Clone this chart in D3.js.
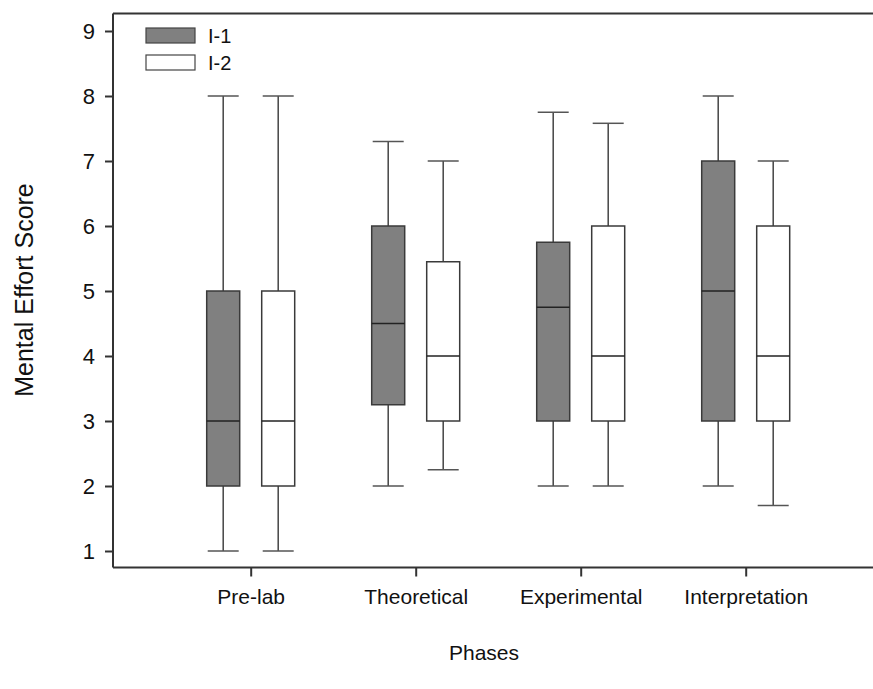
<!DOCTYPE html>
<html>
<head>
<meta charset="utf-8">
<script src="https://cdn.jsdelivr.net/npm/d3@7"></script>
<style>
  body { margin: 0; background: #fff; }
  text { font-family: "Liberation Sans", Arial, sans-serif; fill: #111; }
</style>
</head>
<body>
<div id="graphic"></div>
<script>
var width = 873, height = 689;

// data
var phases = ["Pre-lab", "Theoretical", "Experimental", "Interpretation"];
var groups = ["I-1", "I-2"];
var mins    = { "I-1": [1, 2, 2, 2],        "I-2": [1, 2.25, 2, 1.7] };
var q1s     = { "I-1": [2, 3.25, 3, 3],     "I-2": [2, 3, 3, 3] };
var medians = { "I-1": [3, 4.5, 4.75, 5],   "I-2": [3, 4, 4, 4] };
var q3s     = { "I-1": [5, 6, 5.75, 7],     "I-2": [5, 5.45, 6, 6] };
var maxs    = { "I-1": [8, 7.3, 7.75, 8],   "I-2": [8, 7, 7.58, 7] };
var yTicks = [1, 2, 3, 4, 5, 6, 7, 8, 9];
var fills = { "I-1": "#808080", "I-2": "#ffffff" };

var boxes = [];
phases.forEach(function(p, i){
  groups.forEach(function(g){
    boxes.push({phase: p, group: g, min: mins[g][i], q1: q1s[g][i],
      median: medians[g][i], q3: q3s[g][i], max: maxs[g][i]});
  });
});

// plot frame (don't use "top": it's window.top)
var plotLeft = 113, plotTop = 13.5, plotBottom = 567.5, plotRight = 873;

var svg = d3.select('#graphic')
  .append('svg')
  .attr("width", width)
  .attr("height", height);

var y = d3.scaleLinear().domain([1, 9]).range([551, 31]);
var x = d3.scalePoint().domain(phases).range([250.7, 745.7]);
var off = d3.scalePoint().domain(groups).range([-27.5, 27.5]);
var boxW = 33, capW = 31;

// top line
svg.append("line").attr("x1", plotLeft).attr("x2", plotRight).attr("y1", plotTop).attr("y2", plotTop)
  .attr("stroke", "#333").attr("stroke-width", 2);

// y axis
var yAxis = svg.append("g")
  .attr("transform", "translate(" + plotLeft + ",0)")
  .call(d3.axisLeft(y).tickValues(yTicks).tickSize(8).tickPadding(10).tickSizeOuter(0));
yAxis.select(".domain").attr("d", "M0," + plotTop + "V" + plotBottom).attr("stroke", "#333").attr("stroke-width", 2);
yAxis.selectAll(".tick line").attr("stroke", "#333").attr("stroke-width", 2);
yAxis.selectAll(".tick text").style("font-size", "22px").attr("fill", "#111")
  .style("font-family", "Liberation Sans, Arial, sans-serif");

// x axis
var xAxis = svg.append("g")
  .attr("transform", "translate(0," + plotBottom + ")")
  .call(d3.axisBottom(x).tickSize(9).tickPadding(13).tickSizeOuter(0));
xAxis.select(".domain").attr("d", "M" + plotLeft + ",0H" + plotRight).attr("stroke", "#333").attr("stroke-width", 2);
xAxis.selectAll(".tick line").attr("stroke", "#333").attr("stroke-width", 2);
xAxis.selectAll(".tick text").style("font-size", "21px").attr("fill", "#111")
  .style("font-family", "Liberation Sans, Arial, sans-serif");

// boxes
var b = svg.append("g").selectAll("g.box")
  .data(boxes)
  .enter().append("g")
  .attr("class", "box")
  .attr("transform", function(d){ return "translate(" + (x(d.phase) + off(d.group)) + ",0)"; });

b.append("line").attr("x1", 0).attr("x2", 0)
  .attr("y1", function(d){ return y(d.max); }).attr("y2", function(d){ return y(d.q3); })
  .attr("stroke", "#444").attr("stroke-width", 1.5);
b.append("line").attr("x1", 0).attr("x2", 0)
  .attr("y1", function(d){ return y(d.q1); }).attr("y2", function(d){ return y(d.min); })
  .attr("stroke", "#444").attr("stroke-width", 1.5);
b.append("line").attr("x1", -capW/2).attr("x2", capW/2)
  .attr("y1", function(d){ return y(d.max); }).attr("y2", function(d){ return y(d.max); })
  .attr("stroke", "#555").attr("stroke-width", 1.5);
b.append("line").attr("x1", -capW/2).attr("x2", capW/2)
  .attr("y1", function(d){ return y(d.min); }).attr("y2", function(d){ return y(d.min); })
  .attr("stroke", "#555").attr("stroke-width", 1.5);
b.append("rect")
  .attr("x", -boxW/2).attr("width", boxW)
  .attr("y", function(d){ return y(d.q3); })
  .attr("height", function(d){ return y(d.q1) - y(d.q3); })
  .attr("fill", function(d){ return fills[d.group]; })
  .attr("stroke", "#3a3a3a").attr("stroke-width", 1.5);
b.append("line").attr("x1", -boxW/2).attr("x2", boxW/2)
  .attr("y1", function(d){ return y(d.median); }).attr("y2", function(d){ return y(d.median); })
  .attr("stroke", "#222").attr("stroke-width", 1.5);

// legend
var legend = svg.append("g").attr("class", "legend").attr("transform", "translate(146,28)");
groups.forEach(function(g, i){
  legend.append("rect").attr("x", 0).attr("y", i * 27).attr("width", 49).attr("height", 15)
    .attr("fill", fills[g]).attr("stroke", "#444").attr("stroke-width", 1.2);
  legend.append("text").attr("x", 62).attr("y", i * 27 + 15)
    .style("font-size", "20px").text(g);
});

// titles
svg.append("text")
  .attr("transform", "translate(33,290) rotate(-90)")
  .attr("text-anchor", "middle")
  .style("font-size", "25px")
  .text("Mental Effort Score");

svg.append("text")
  .attr("x", 484).attr("y", 660)
  .attr("text-anchor", "middle")
  .style("font-size", "21px")
  .text("Phases");
</script>
</body>
</html>
